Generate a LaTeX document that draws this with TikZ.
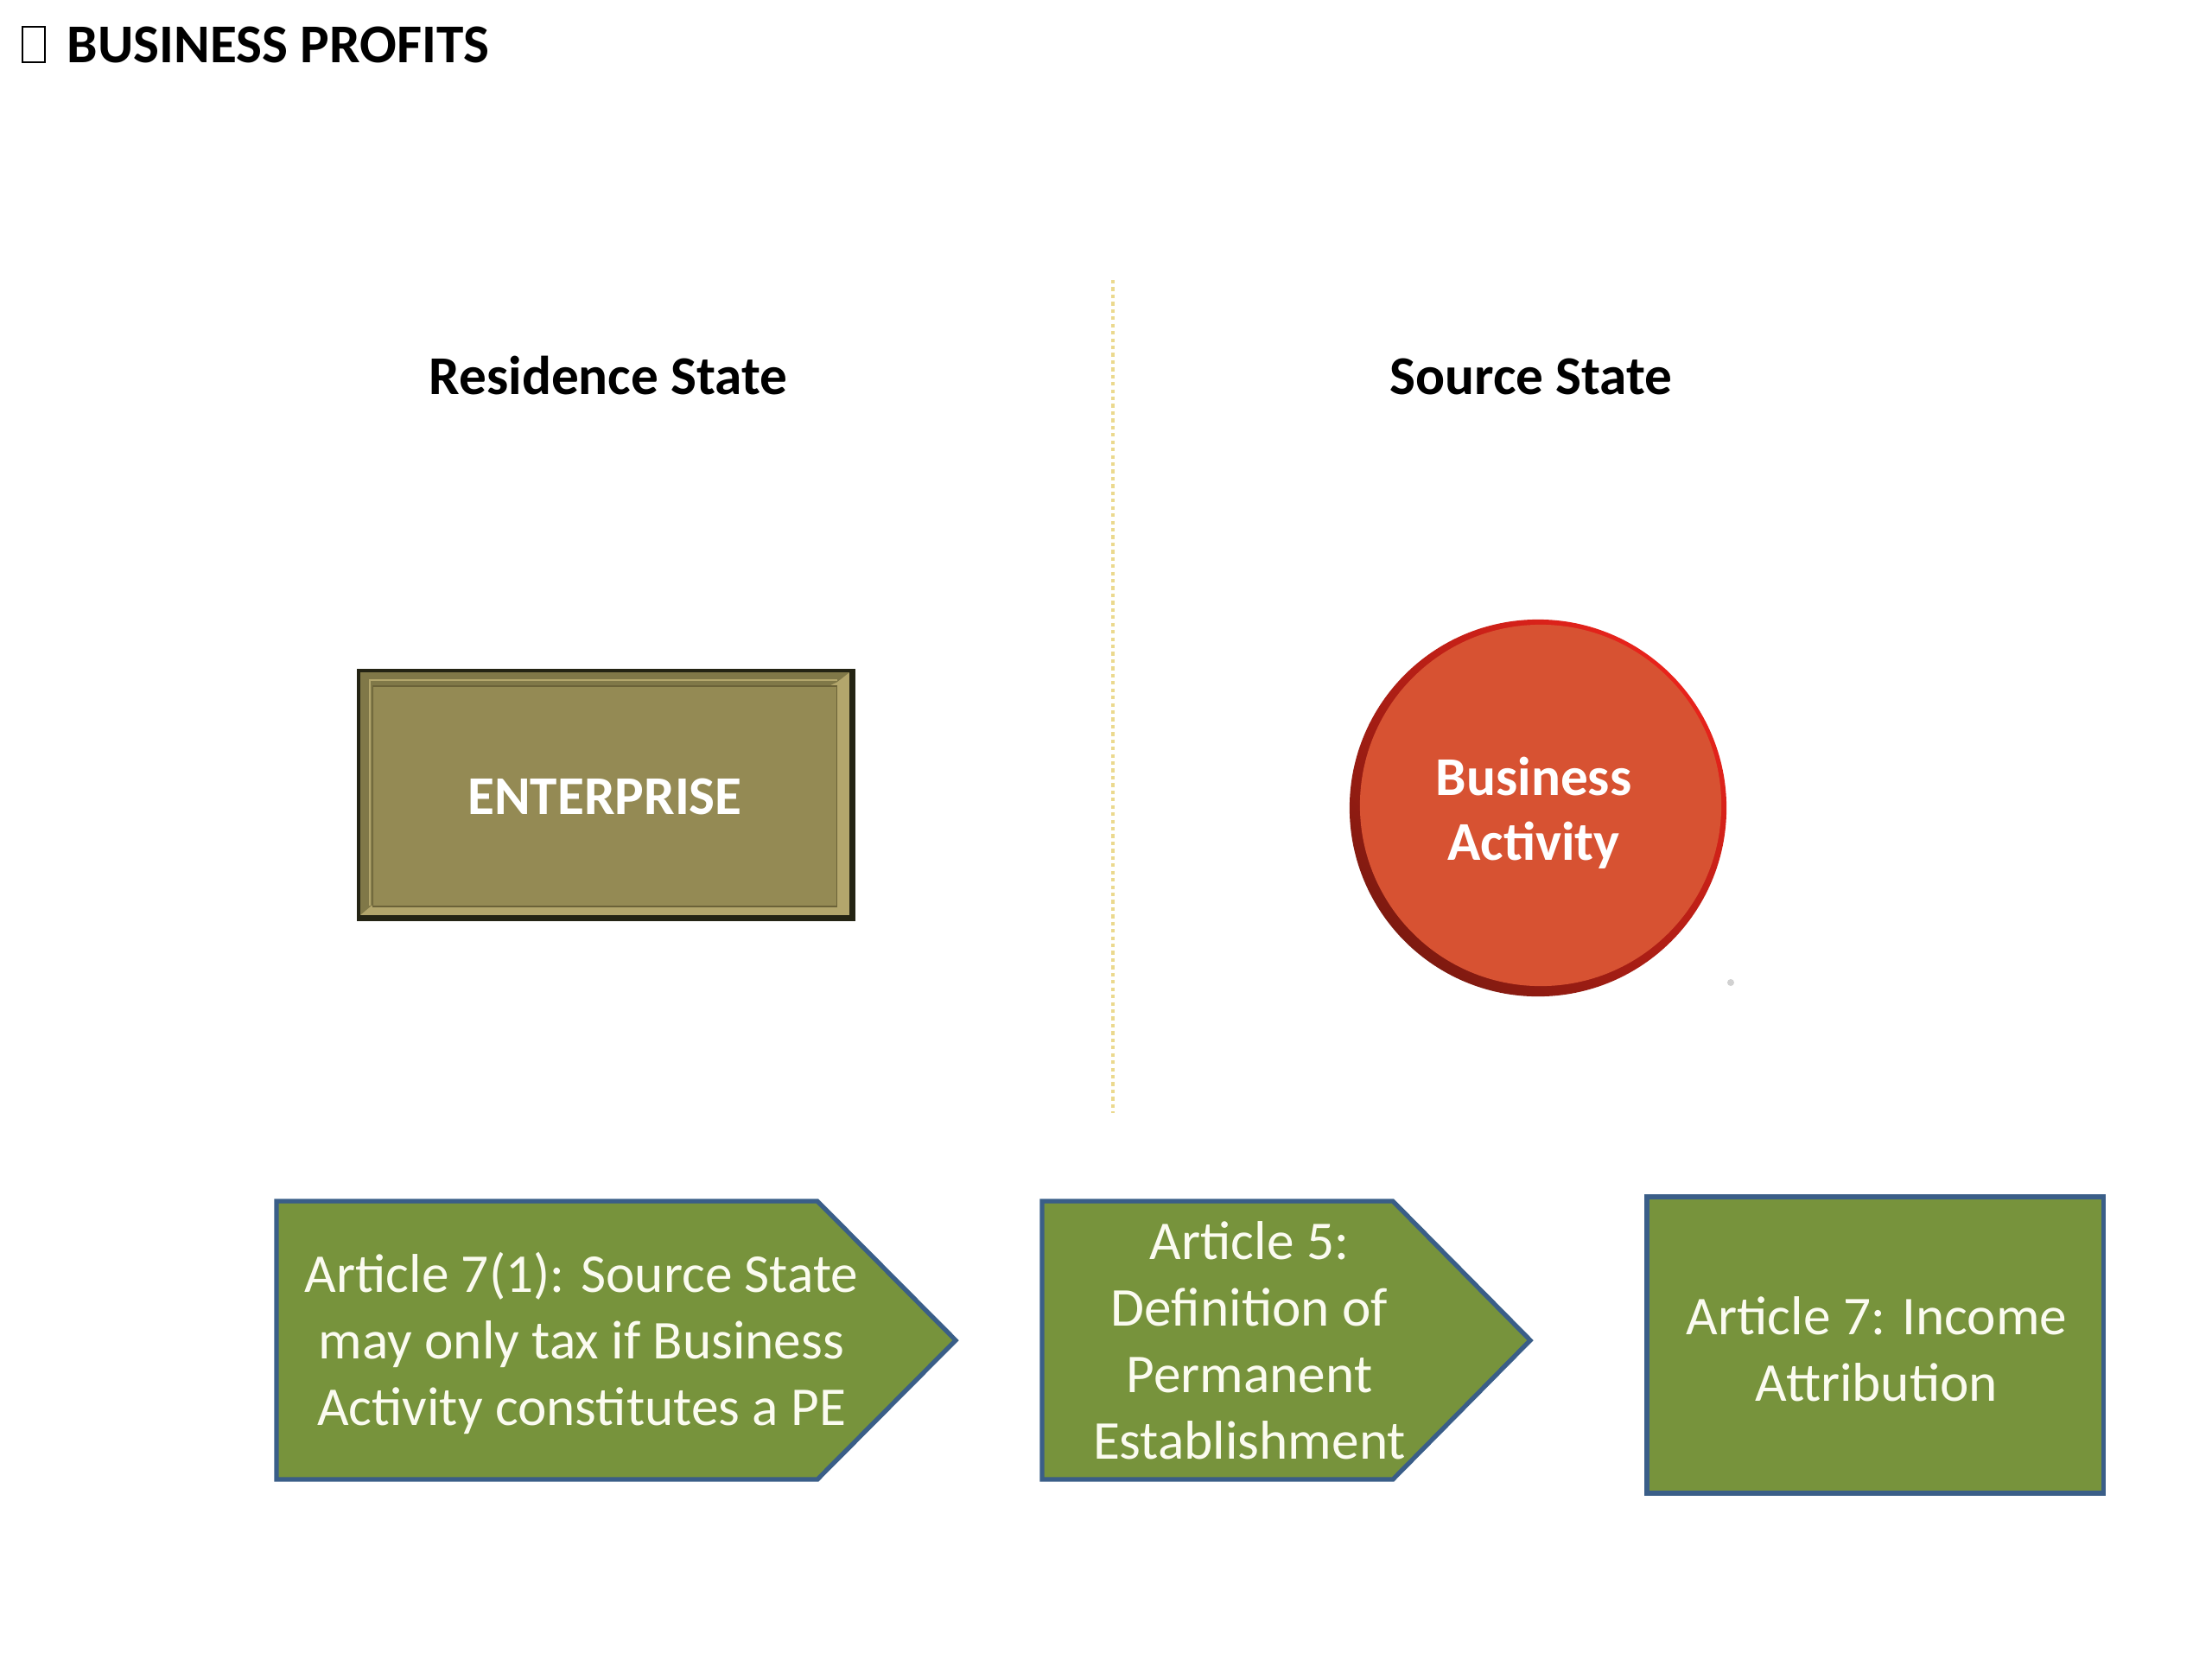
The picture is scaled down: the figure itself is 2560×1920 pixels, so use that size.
\documentclass[tikz,border=0pt]{standalone}
\usepackage{fontspec}
\setmainfont{Carlito}
\usetikzlibrary{calc}
\definecolor{olivebox}{HTML}{948A54}
\definecolor{olivedark}{HTML}{242414}
\definecolor{olivelight}{HTML}{B3A66C}
\definecolor{olivemid}{HTML}{807848}
\definecolor{oliveline}{HTML}{6B6238}
\definecolor{greenbox}{HTML}{77933C}
\definecolor{blueedge}{HTML}{3A5E88}
\definecolor{circfill}{HTML}{D75232}
\definecolor{circdark}{HTML}{7E1A10}
\definecolor{circbright}{HTML}{E8231B}
\definecolor{divider}{HTML}{EBD98E}
\definecolor{cream}{HTML}{FBFBF0}
\tikzset{
  heading/.style={font=\bfseries\fontsize{18}{21.5}\selectfont, text=black, inner sep=0pt},
  whitebold/.style={font=\bfseries\fontsize{18}{21.5}\selectfont, text=white, inner sep=0pt},
  arttext/.style={font=\fontsize{18}{21.5}\selectfont, text=cream, inner sep=0pt},
  greenshape/.style={fill=greenbox, draw=blueedge, line width=1.5pt, line join=miter},
}
\begin{document}
\begin{tikzpicture}[x=0.01cm, y=-0.01cm]
\useasboundingbox[fill=white] (0,0) rectangle (2560,1920);

% title
\node[draw=black, line width=0.5pt, minimum width=0.26cm, minimum height=0.41cm, inner sep=0pt] (tofu) at (39,51.5) {};
\node[heading, anchor=base west] (title) at (77,72) {BUSINESS PROFITS};

% headings
\node[heading, anchor=base] (res) at (704,456) {Residence State};
\node[heading, anchor=base] (src) at (1772,456) {Source State};

% divider
\coordinate (dtop) at (1288,324);
\coordinate (dbot) at (1288,1288);
\draw[divider, line width=1.1pt, dash pattern=on 1.2pt off 1.2pt] (dtop) -- (dbot);

% enterprise box with bevel
\node[rectangle, fill=olivedark, minimum width=5.77cm, minimum height=2.92cm, inner sep=0pt] (entframe) at (701.5,920) {};
\fill[olivelight] ($(entframe.north west)+(5,5)$) rectangle ($(entframe.south east)+(-8,-8)$);
\fill[olivemid] ($(entframe.north west)+(5,5)$) -- ($(entframe.north east)+(-8,5)$) -- ($(entframe.north east)+(-22,16)$) -- ($(entframe.south west)+(18,-19)$) -- ($(entframe.south west)+(5,-8)$) -- cycle;
\draw[olivelight, line width=0.5pt] ($(entframe.south west)+(16,-19)$) -- ($(entframe.north west)+(16,14)$) -- ($(entframe.north east)+(-22,14)$);
\node[rectangle, fill=olivebox, draw=oliveline, line width=0.4pt, minimum width=5.37cm, minimum height=2.55cm, inner sep=0pt, whitebold] (ent) at (700,921.5) {ENTERPRISE};

% business activity circle
\node[circle, minimum size=4.36cm, inner sep=0pt, top color=circdark, bottom color=circbright, shading angle=135] (baring) at (1780,935) {};
\node[circle, minimum size=4.18cm, inner sep=0pt, fill=circfill] (ba) at (1783,932) {};
\node[whitebold, anchor=base] (ba1) at (1775,920) {Business};
\node[whitebold, anchor=base] (ba2) at (1775,995) {Activity};
\fill[black!18] (2003,1137) circle (4);

% bottom shapes
\draw[greenshape] (320,1390) -- (946,1390) -- (1106,1551) -- (946,1712) -- (320,1712) -- cycle;
\node[arttext, anchor=base] (a1l1) at (673,1495) {Article 7(1): Source State};
\node[arttext, anchor=base] (a1l2) at (673,1572) {may only tax if Business};
\node[arttext, anchor=base] (a1l3) at (673,1649) {Activity constitutes a PE};

\draw[greenshape] (1206,1390) -- (1612,1390) -- (1771,1551) -- (1612,1712) -- (1206,1712) -- cycle;
\node[arttext, anchor=base] (a5l1) at (1446,1457) {Article 5:};
\node[arttext, anchor=base] (a5l2) at (1446,1534) {Definition of};
\node[arttext, anchor=base] (a5l3) at (1446,1611) {Permanent};
\node[arttext, anchor=base] (a5l4) at (1446,1688) {Establishment};

\node[rectangle, greenshape, minimum width=5.28cm, minimum height=3.43cm, inner sep=0pt] (art7) at (2170,1556.5) {};
\node[arttext, anchor=base] (a7l1) at (2172,1544) {Article 7: Income};
\node[arttext, anchor=base] (a7l2) at (2172,1621) {Attribution};
\end{tikzpicture}
\end{document}
